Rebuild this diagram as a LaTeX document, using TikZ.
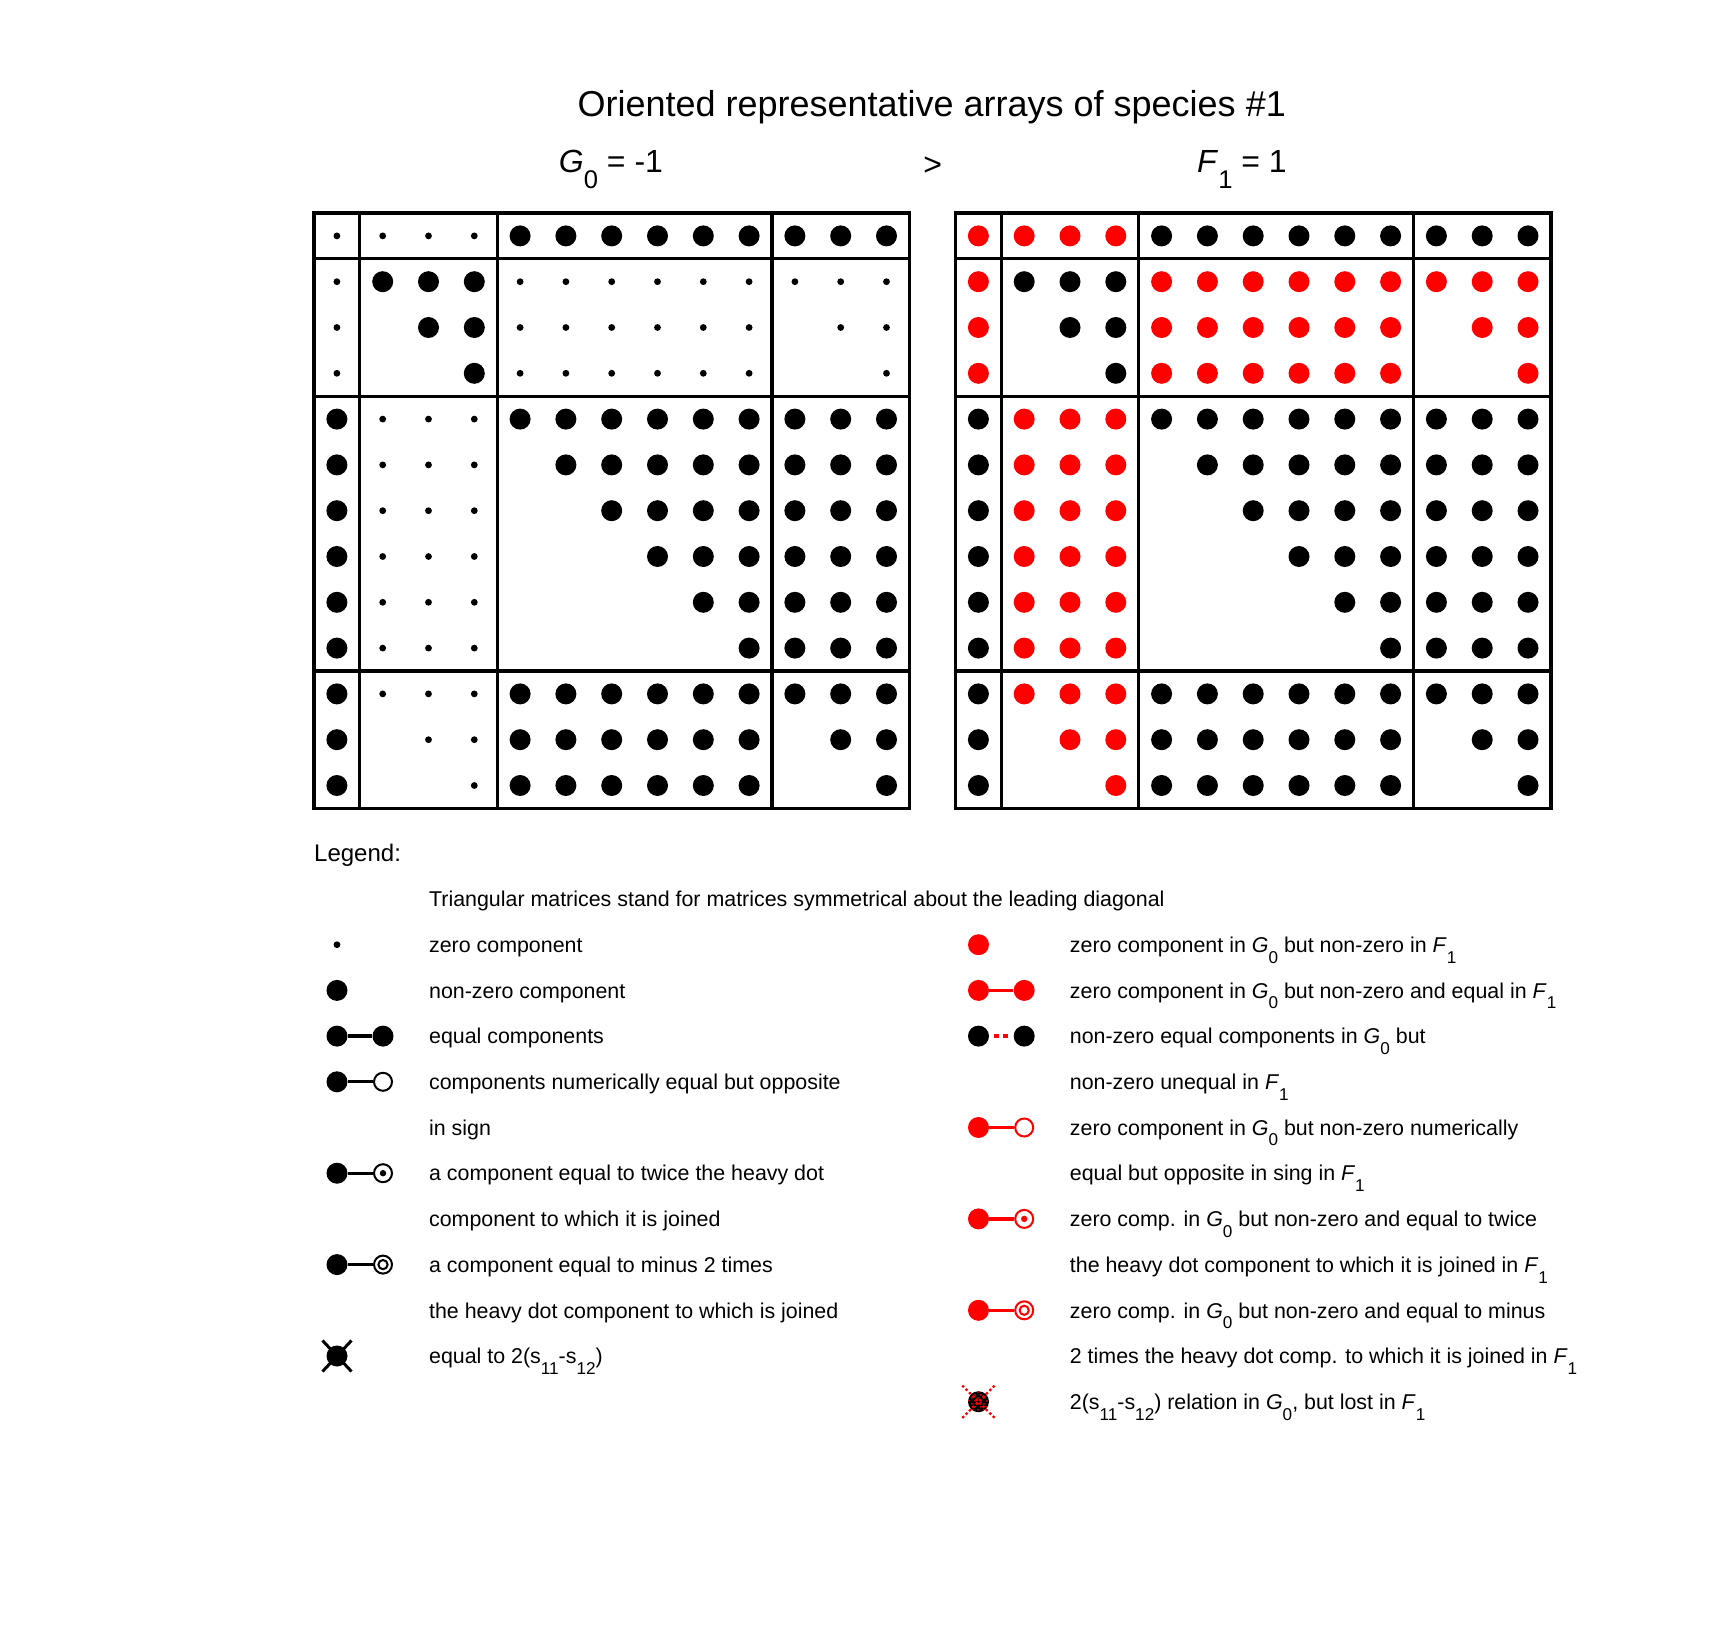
\documentclass[tikz,border=0pt]{standalone}
\usepackage{fontspec}
\setmainfont{Liberation Sans}
\usepackage{graphicx}
\usetikzlibrary{patterns,shapes.misc}
\newcommand\lsub[1]{\raisebox{-0.5em}{\scalebox{0.8}{#1}}}
\def\gpat{%
{0,0,0,0,1,1,1,1,1,1,1,1,1},%
{0,1,1,1,0,0,0,0,0,0,0,0,0},%
{0,2,1,1,0,0,0,0,0,0,2,0,0},%
{0,2,2,1,0,0,0,0,0,0,2,2,0},%
{1,0,0,0,1,1,1,1,1,1,1,1,1},%
{1,0,0,0,2,1,1,1,1,1,1,1,1},%
{1,0,0,0,2,2,1,1,1,1,1,1,1},%
{1,0,0,0,2,2,2,1,1,1,1,1,1},%
{1,0,0,0,2,2,2,2,1,1,1,1,1},%
{1,0,0,0,2,2,2,2,2,1,1,1,1},%
{1,0,0,0,1,1,1,1,1,1,1,1,1},%
{1,2,0,0,1,1,1,1,1,1,2,1,1},%
{1,2,2,0,1,1,1,1,1,1,2,2,1}}
\newcommand\dotgrid[2]{%
  \foreach \rowlist [count=\rr from 0] in \gpat {
    \foreach \v [count=\cc from 0] in \rowlist {
      \ifcase\v\relax
        \ifnum#2=0 \fill ({#1+(\cc+0.5)*45.8},{213+(\rr+0.5)*45.8}) circle (3.4);
        \else \fill[red] ({#1+(\cc+0.5)*45.8},{213+(\rr+0.5)*45.8}) circle (10.5);\fi
      \or \fill ({#1+(\cc+0.5)*45.8},{213+(\rr+0.5)*45.8}) circle (10.5);
      \or
      \fi
    }
  }
  \draw[gline] (#1,213) rectangle ({#1+595.4},808.4);
  \foreach \d in {45.8,183.2,458} {
    \draw[gline] ({#1+\d},213) -- ({#1+\d},808.4);
    \draw[gline] (#1,{213+\d}) -- ({#1+595.4},{213+\d});
  }
}
\begin{document}
\begin{tikzpicture}[x=0.5pt,y=-0.5pt,
  gline/.style={line width=1.65pt},
  link/.style={line width=1.65pt},
  hd/.style={circle, fill=black, inner sep=0pt, minimum size=10.5pt},
  sd/.style={circle, fill=black, inner sep=0pt, minimum size=3.4pt},
  od/.style={circle, draw=#1, fill=white, line width=1pt, inner sep=0pt, minimum size=9pt},
  od/.default=black,
  odot/.style={od=#1, path picture={\fill[#1] (path picture bounding box.center) circle (1.6pt);}},
  odot/.default=black,
  dcirc/.style={od=#1, path picture={\draw[#1, line width=1pt] (path picture bounding box.center) circle (2.3pt);}},
  dcirc/.default=black,
  leg/.style={anchor=base west, inner sep=0pt, font=\fontsize{10.7}{13}\selectfont},
  lab/.style={anchor=base, inner sep=0pt, font=\fontsize{16}{20}\selectfont}]
\fill[white] (0,0) rectangle (1715,1626);
\useasboundingbox (0,0) rectangle (1715,1626);

\node[anchor=base, inner sep=0pt, font=\fontsize{18}{22}\selectfont] (title) at (931.7,117) {Oriented representative arrays of species \#1};
\node[lab] (g0lab) at (611,173) {\textit{G}\lsub{0} = -1};
\node[lab] (gt) at (932.7,176) {>};
\node[lab] (f1lab) at (1242,173) {\textit{F}\lsub{1} = 1};

\dotgrid{314}{0}
\dotgrid{955.5}{1}

\node[anchor=base west, inner sep=0pt, font=\fontsize{12}{14}\selectfont] (legend) at (313.8,861.7) {Legend:};

% left column
\node[leg] (t0) at (428.7,906.7) {Triangular matrices stand for matrices symmetrical about the leading diagonal};
\node[sd] (s1) at (337,944.7) {};
\node[leg] (t1) at (428.7,952.4) {zero component};
\node[hd] (s2) at (337,990.4) {};
\node[leg] (t2) at (428.7,998.1) {non-zero component};
\node[hd] (s3a) at (337,1036.1) {};
\node[hd] (s3b) at (383,1036.1) {};
\draw[link] (s3a) -- (s3b);
\node[leg] (t3) at (428.7,1043.8) {equal components};
\node[hd] (s4a) at (337,1081.8) {};
\node[od] (s4b) at (383,1081.8) {};
\draw[link] (s4a) -- (s4b);
\node[leg] (t4) at (428.7,1089.5) {components numerically equal but opposite};
\node[leg] (t5) at (428.7,1135.2) {in sign};
\node[hd] (s6a) at (337,1173.2) {};
\node[odot] (s6b) at (383,1173.2) {};
\draw[link] (s6a) -- (s6b);
\node[leg] (t6) at (428.7,1180.9) {a component equal to twice the heavy dot};
\node[leg] (t7) at (428.7,1226.6) {component to which it is joined};
\node[hd] (s8a) at (337,1264.6) {};
\node[dcirc] (s8b) at (383,1264.6) {};
\draw[link] (s8a) -- (s8b);
\node[leg] (t8) at (428.7,1272.3) {a component equal to minus 2 times};
\node[leg] (t9) at (428.7,1318) {the heavy dot component to which is joined};
\node[hd] (s10) at (337,1356) {};
\node[cross out, draw, line width=1.5pt, inner sep=0pt, minimum width=13pt, minimum height=14pt] (s10x) at (337,1356) {};
\node[leg] (t10) at (428.7,1363.7) {equal to 2(s\lsub{11}-s\lsub{12})};

% right column
\node[hd, fill=red] (r1) at (978.5,944.7) {};
\node[leg] (u1) at (1069.5,952.4) {zero component in \textit{G}\lsub{0} but non-zero in \textit{F}\lsub{1}};
\node[hd, fill=red] (r2a) at (978.5,990.4) {};
\node[hd, fill=red] (r2b) at (1024.2,990.4) {};
\draw[link, red] (r2a) -- (r2b);
\node[leg] (u2) at (1069.5,998.1) {zero component in \textit{G}\lsub{0} but non-zero and equal in \textit{F}\lsub{1}};
\node[hd] (r3a) at (978.5,1036.1) {};
\node[hd] (r3b) at (1024.2,1036.1) {};
\draw[red, line width=2.3pt, dash pattern=on 2.3pt off 2.3pt, dash phase=2.3pt, shorten >=1pt] (r3a) -- (r3b);
\node[leg] (u3) at (1069.5,1043.8) {non-zero equal components in \textit{G}\lsub{0} but};
\node[leg] (u4) at (1069.5,1089.5) {non-zero unequal in \textit{F}\lsub{1}};
\node[hd, fill=red] (r5a) at (978.5,1127.5) {};
\node[od=red] (r5b) at (1024.2,1127.5) {};
\draw[link, red] (r5a) -- (r5b);
\node[leg] (u5) at (1069.5,1135.2) {zero component in \textit{G}\lsub{0} but non-zero numerically};
\node[leg] (u6) at (1069.5,1180.9) {equal but opposite in sing in \textit{F}\lsub{1}};
\node[hd, fill=red] (r7a) at (978.5,1218.9) {};
\node[odot=red] (r7b) at (1024.2,1218.9) {};
\draw[link, red] (r7a) -- (r7b);
\node[leg] (u7) at (1069.5,1226.6) {zero comp. in \textit{G}\lsub{0} but non-zero and equal to twice};
\node[leg] (u8) at (1069.5,1272.3) {the heavy dot component to which it is joined in \textit{F}\lsub{1}};
\node[hd, fill=red] (r9a) at (978.5,1310.3) {};
\node[dcirc=red] (r9b) at (1024.2,1310.3) {};
\draw[link, red] (r9a) -- (r9b);
\node[leg] (u9) at (1069.5,1318) {zero comp. in \textit{G}\lsub{0} but non-zero and equal to minus};
\node[leg] (u10) at (1069.5,1363.7) {2 times the heavy dot comp. to which it is joined in \textit{F}\lsub{1}};
\node[hd, postaction={pattern=crosshatch dots, pattern color=red}] (r11) at (978.5,1401.7) {};
\node[cross out, draw=red, dash pattern=on 1.2pt off 1.2pt, line width=1.2pt, inner sep=0pt, minimum width=15pt, minimum height=15pt] (r11x) at (978.5,1401.7) {};
\node[leg] (u11) at (1069.5,1409.4) {2(s\lsub{11}-s\lsub{12}) relation in \textit{G}\lsub{0}, but lost in \textit{F}\lsub{1}};
\end{tikzpicture}
\end{document}
